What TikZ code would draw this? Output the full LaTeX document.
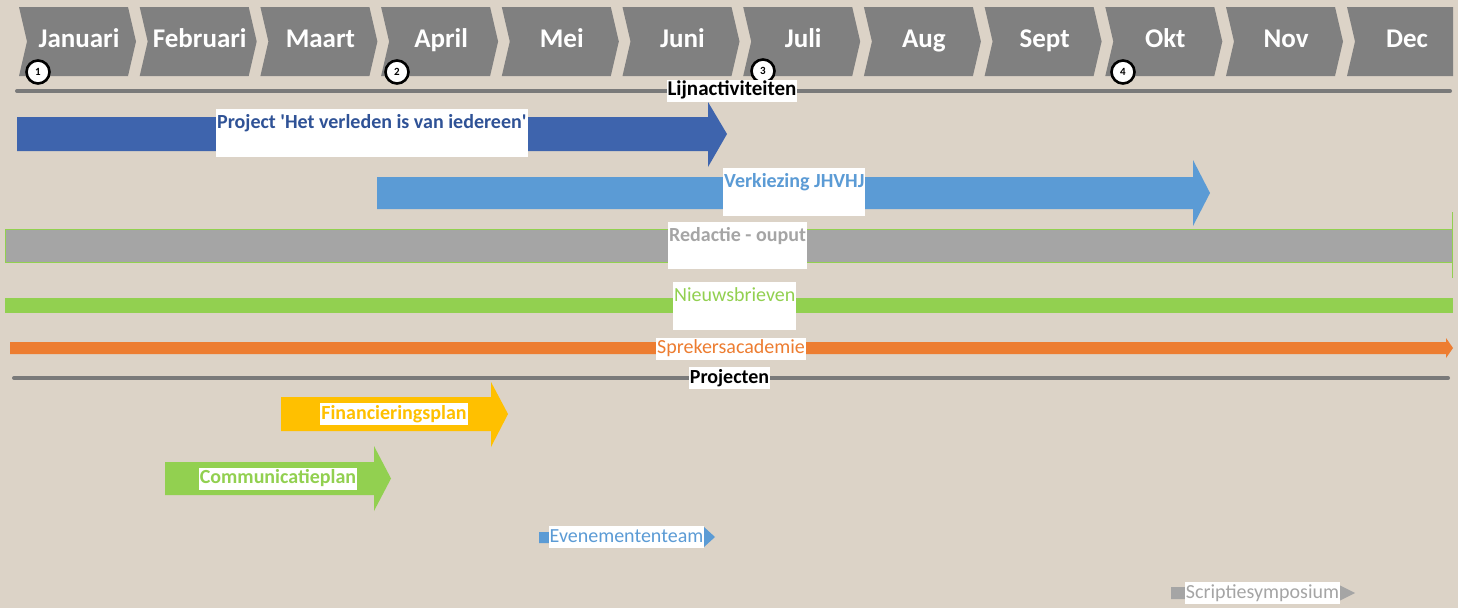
\documentclass[tikz,border=0pt]{standalone}
\usepackage{fontspec}
\setmainfont{Carlito}
\definecolor{bg}{RGB}{220,211,199}
\definecolor{chev}{RGB}{128,128,128}
\definecolor{dblue}{RGB}{62,100,173}
\definecolor{dbluetxt}{RGB}{47,82,150}
\definecolor{lblue}{RGB}{91,155,213}
\definecolor{lgray}{RGB}{165,165,165}
\definecolor{lgreen}{RGB}{146,208,80}
\definecolor{orng}{RGB}{237,125,49}
\definecolor{gold}{RGB}{255,192,0}
\definecolor{lineg}{RGB}{122,122,122}
\tikzset{
  month/.style={text=white,font=\bfseries\fontsize{27}{27}\selectfont,inner sep=0pt,anchor=base},
  numcirc/.style={circle,draw=black,line width=2.6pt,fill=white,minimum size=23pt,inner sep=0pt,font=\bfseries\fontsize{11}{11}\selectfont},
  tallbox/.style={fill=white,anchor=north west,inner xsep=1pt,inner ysep=0pt,text height=19pt,text depth=29pt},
  smallbox/.style={fill=white,inner xsep=1pt,inner ysep=1pt,text height=15pt,text depth=5pt},
  bfl/.style={font=\bfseries\fontsize{20}{20}\selectfont},
  rgl/.style={font=\fontsize{20}{20}\selectfont},
  sepline/.style={lineg,line width=4pt,line cap=round},
}
\begin{document}
\begin{tikzpicture}[x=1pt,y=-1pt]
\fill[bg] (0,0) rectangle (1458,608);
\useasboundingbox (0,0) rectangle (1458,608);
% chevrons
\foreach \m [count=\i from 0] in {Januari,Februari,Maart,April,Mei,Juni,Juli,Aug,Sept,Okt,Nov}{
  \pgfmathsetmacro\s{19+120.7*\i}
  \fill[chev] (\s,7) -- (\s+109,7) -- (\s+117,41.5) -- (\s+109,76) -- (\s,76) -- (\s+8,41.5) -- cycle;
  \node[month] (m\i) at (\s+60,47) {\m};
}
\fill[chev] (1347,7) -- (1453,7) -- (1453,76) -- (1347,76) -- (1355,41.5) -- cycle;
\node[month] (m11) at (1407,47) {Dec};
% separator lines
\coordinate (l1a) at (17,91); \coordinate (l1b) at (1450,91);
\draw[sepline] (l1a) -- (l1b);
\coordinate (l2a) at (14,378); \coordinate (l2b) at (1448,378);
\draw[sepline] (l2a) -- (l2b);
% circled numbers
\node[numcirc] (c1) at (38,72) {1};
\node[numcirc] (c2) at (397,72) {2};
\node[numcirc] (c3) at (763,71) {3};
\node[numcirc] (c4) at (1123,72) {4};
\node[smallbox,font=\bfseries\fontsize{21}{21}\selectfont,text=black] (lijn) at (732,90.5) {Lijnactiviteiten};
% Project arrow
\fill[dblue] (17,117) -- (708,117) -- (708,102) -- (727,134) -- (708,167) -- (708,151) -- (17,151) -- cycle;
\node[tallbox,bfl,text=dbluetxt] (proj) at (216,109) {Project \textquotesingle Het verleden is van iedereen\textquotesingle};
% Verkiezing
\fill[lblue] (377,177) -- (1193,177) -- (1193,160) -- (1210,193) -- (1193,226) -- (1193,209) -- (377,209) -- cycle;
\node[tallbox,bfl,text=lblue] (verk) at (723,168) {Verkiezing JHVHJ};
% Redactie
\filldraw[fill=lgray,draw=lgreen,line width=0.8pt] (5,229) rectangle (1452,262);
\draw[lgreen,line width=1pt] (1452.5,212) -- (1452.5,278);
\node[tallbox,bfl,text=lgray,text depth=28pt] (red) at (668,222) {Redactie - ouput};
% Nieuwsbrieven
\fill[lgreen] (5,298) rectangle (1453,313);
\node[tallbox,rgl,text=lgreen] (nieuws) at (673,282) {Nieuwsbrieven};
% Sprekersacademie
\fill[orng] (10,342) -- (1446,342) -- (1446,338) -- (1453,348) -- (1446,358) -- (1446,354) -- (10,354) -- cycle;
\node[smallbox,rgl,text=orng] (sprek) at (731,348.5) {Sprekersacademie};
\node[smallbox,bfl,text=black] (projecten) at (729.5,378) {Projecten};
% Financieringsplan
\fill[gold] (281,397) -- (491,397) -- (491,382) -- (508,414) -- (491,447) -- (491,431) -- (281,431) -- cycle;
\node[smallbox,bfl,text=gold] (fin) at (394,414) {Financieringsplan};
% Communicatieplan
\fill[lgreen] (165,462) -- (374,462) -- (374,446) -- (391,478.5) -- (374,511) -- (374,495) -- (165,495) -- cycle;
\node[smallbox,bfl,text=lgreen] (comm) at (278,478.5) {Communicatieplan};
% Evenemententeam
\fill[lblue] (539,532) -- (704,532) -- (704,527) -- (715,537) -- (704,547) -- (704,543) -- (539,543) -- cycle;
\node[smallbox,rgl,text=lblue] (even) at (626.5,537) {Evenemententeam};
% Scriptiesymposium
\fill[lgray] (1171,587) -- (1339,587) -- (1339,585) -- (1355,593) -- (1339,601) -- (1339,599) -- (1171,599) -- cycle;
\node[smallbox,rgl,text=lgray] (scrip) at (1262.5,593) {Scriptiesymposium};
\end{tikzpicture}
\end{document}
